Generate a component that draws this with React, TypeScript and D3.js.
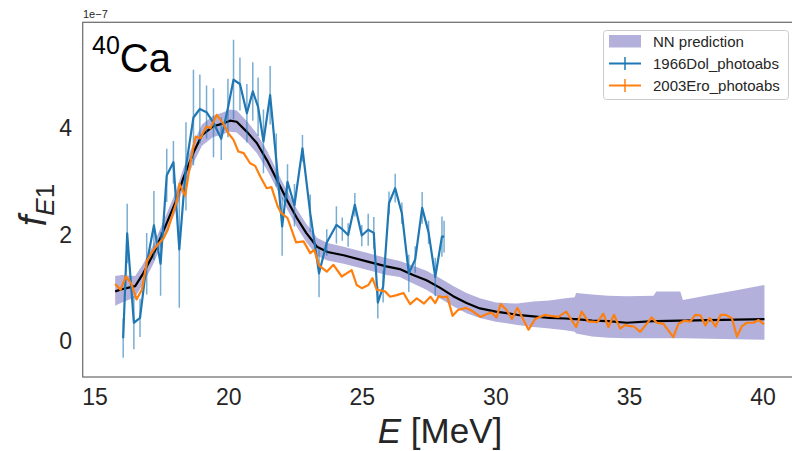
import React from 'react';
import * as d3 from 'd3';

// 1966Dol_photoabs (units of 1e-7)
const dolE = [16.05, 16.2, 16.45, 16.68, 16.93, 17.2, 17.45, 17.68, 17.93, 18.15, 18.4, 18.68, 18.92, 19.17, 19.43, 19.72, 19.97, 20.18, 20.42, 20.68, 20.9, 21.1, 21.3, 21.55, 21.78, 22.0, 22.2, 22.46, 22.76, 23.05, 23.38, 23.67, 24.03, 24.25, 24.47, 24.72, 24.98, 25.22, 25.43, 25.58, 25.78, 26.0, 26.23, 26.48, 26.74, 26.98, 27.24, 27.48, 27.73, 27.98, 28.06];
const dolY = [0.05, 2.02, 0.34, 0.43, 1.45, 2.17, 1.45, 3.11, 3.36, 1.72, 3.28, 4.2, 4.36, 4.3, 4.1, 3.8, 4.38, 4.91, 4.83, 4.28, 4.69, 4.4, 3.75, 4.62, 3.4, 2.15, 2.99, 2.55, 3.62, 2.4, 1.27, 1.85, 2.18, 2.1, 1.99, 2.56, 1.98, 2.09, 2.03, 0.72, 1.02, 2.59, 2.87, 2.4, 1.27, 1.53, 2.5, 2.04, 1.2, 1.96, 1.96];
const dolErr = [0.37, 0.56, 0.5, 0.36, 0.58, 0.65, 0.6, 0.5, 0.4, 1.1, 0.83, 0.9, 0.65, 0.5, 0.65, 0.4, 0.55, 0.75, 0.5, 0.55, 0.55, 0.55, 0.6, 0.55, 0.5, 0.55, 0.33, 0.4, 0.25, 0.35, 0.45, 0.25, 0.35, 0.22, 0.22, 0.22, 0.2, 0.3, 0.3, 0.3, 0.3, 0.22, 0.27, 0.2, 0.35, 0.25, 0.3, 0.22, 0.36, 0.38, 0.3];

// 2003Ero_photoabs
const eroE = [15.75, 15.95, 16.15, 16.35, 16.55, 16.75, 16.94, 17.14, 17.36, 17.55, 17.72, 17.9, 18.07, 18.16, 18.37, 18.58, 18.76, 18.94, 19.16, 19.32, 19.55, 19.78, 19.99, 20.18, 20.36, 20.56, 20.8, 20.99, 21.18, 21.42, 21.6, 21.84, 21.97, 22.2, 22.52, 22.8, 23.05, 23.2, 23.38, 23.67, 23.92, 24.23, 24.6, 24.79, 24.98, 25.23, 25.38, 25.54, 25.85, 26.04, 26.29, 26.54, 26.79, 27.04, 27.31, 27.55, 27.73, 27.86, 28.02, 28.18, 28.38, 28.58, 28.88, 29.15, 29.42, 29.68, 29.85, 30.02, 30.18, 30.4, 30.6, 30.8, 31.22, 31.47, 31.84, 32.03, 32.34, 32.63, 33.0, 33.21, 33.46, 33.6, 33.8, 34.02, 34.21, 34.42, 34.65, 34.84, 34.96, 35.17, 35.4, 35.61, 35.83, 36.02, 36.27, 36.64, 36.83, 37.05, 37.27, 37.46, 37.65, 37.84, 38.0, 38.22, 38.41, 38.58, 38.83, 39.02, 39.2, 39.39, 39.64, 39.83, 40.04];
const eroY = [1.07, 0.96, 1.21, 1.08, 0.78, 0.96, 1.5, 1.68, 1.82, 1.92, 2.09, 2.38, 2.65, 2.95, 2.73, 3.4, 3.84, 3.81, 4.03, 4.0, 4.25, 4.1, 3.9, 3.78, 3.56, 3.53, 3.34, 3.29, 3.09, 2.87, 2.89, 2.52, 2.4, 2.31, 1.85, 1.87, 1.65, 1.71, 1.42, 1.3, 1.43, 1.21, 1.33, 1.05, 0.99, 1.05, 1.18, 0.96, 0.93, 0.83, 0.86, 0.9, 0.69, 0.8, 0.7, 0.83, 0.71, 0.84, 0.82, 0.83, 0.47, 0.58, 0.62, 0.55, 0.45, 0.51, 0.53, 0.44, 0.69, 0.58, 0.41, 0.62, 0.21, 0.41, 0.49, 0.47, 0.45, 0.55, 0.26, 0.55, 0.36, 0.36, 0.35, 0.51, 0.26, 0.49, 0.23, 0.3, 0.28, 0.27, 0.17, 0.3, 0.44, 0.34, 0.32, 0.07, 0.32, 0.38, 0.36, 0.49, 0.48, 0.29, 0.43, 0.27, 0.49, 0.49, 0.43, 0.08, 0.27, 0.34, 0.34, 0.39, 0.31];

// NN prediction: mean and band
const nnE = [15.75, 16.0, 16.5, 16.8, 17.2, 17.6, 18.0, 18.3, 18.7, 19.0, 19.4, 19.8, 20.05, 20.3, 20.7, 21.05, 21.45, 21.8, 22.2, 22.55, 22.9, 23.3, 23.7, 24.3, 25.2, 25.9, 26.4, 26.9, 27.4, 27.9, 28.4, 28.9, 29.4, 30.0, 30.8, 31.4, 32.0, 32.6, 32.95, 33.0, 33.6, 34.2, 34.9, 35.9, 36.0, 36.9, 37.0, 38.0, 39.0, 40.05];
const nnMean = [0.93, 0.97, 1.03, 1.27, 1.65, 2.12, 2.6, 3.06, 3.56, 3.87, 4.03, 4.09, 4.14, 4.12, 3.92, 3.72, 3.38, 3.03, 2.63, 2.31, 2.03, 1.77, 1.67, 1.61, 1.49, 1.4, 1.35, 1.24, 1.14, 1.0, 0.84, 0.71, 0.61, 0.55, 0.49, 0.46, 0.43, 0.42, 0.41, 0.41, 0.38, 0.37, 0.34, 0.37, 0.37, 0.38, 0.38, 0.39, 0.4, 0.41];
const nnLo = [0.66, 0.72, 0.82, 1.08, 1.47, 1.94, 2.42, 2.88, 3.37, 3.67, 3.83, 3.89, 3.93, 3.92, 3.73, 3.53, 3.2, 2.86, 2.46, 2.14, 1.86, 1.6, 1.51, 1.45, 1.33, 1.24, 1.2, 1.08, 0.96, 0.8, 0.65, 0.52, 0.43, 0.36, 0.3, 0.26, 0.23, 0.2, 0.17, 0.14, 0.08, 0.06, 0.05, 0.05, 0.05, 0.05, 0.05, 0.04, 0.03, 0.02];
const nnHi = [1.22, 1.24, 1.22, 1.45, 1.83, 2.3, 2.78, 3.24, 3.75, 4.07, 4.23, 4.3, 4.35, 4.33, 4.12, 3.9, 3.56, 3.2, 2.8, 2.48, 2.2, 1.94, 1.84, 1.77, 1.65, 1.56, 1.5, 1.41, 1.32, 1.18, 1.03, 0.9, 0.8, 0.72, 0.7, 0.74, 0.76, 0.8, 0.82, 0.9, 0.87, 0.85, 0.84, 0.85, 0.93, 0.93, 0.77, 0.86, 0.95, 1.05];

const xTicks = [15, 20, 25, 30, 35, 40];
const yTicks = [0, 2, 4];
const legendLabels = ['NN prediction', '1966Dol_photoabs', '2003Ero_photoabs'];

const FONT = "'Liberation Sans', Arial, Helvetica, sans-serif";
const BAND = '#b3b1dc';
const BLUE = '#1f77b4';
const ORANGE = '#ff7f0e';
const TXT = '#262626';

export default function App() {
  const W = 792, H = 451;
  const L = 82.7, R = 796.9, T = 22.3, B = 377;
  const x = d3.scaleLinear().domain([14.535, 41.265]).range([L, R]);
  const y = d3.scaleLinear().domain([-0.68, 5.99]).range([B, T]);

  const bandPath = d3.area<number>()
    .x((i) => x(nnE[i]))
    .y0((i) => y(nnLo[i]))
    .y1((i) => y(nnHi[i]))(nnE.map((_, i) => i)) || '';
  const line = d3.line<[number, number]>().x((d) => x(d[0])).y((d) => y(d[1]));
  const meanPath = line(nnE.map((e, i) => [e, nnMean[i]])) || '';
  const dolPath = line(dolE.map((e, i) => [e, dolY[i]])) || '';
  const eroPath = line(eroE.map((e, i) => [e, eroY[i]])) || '';

  const lx0 = 609, lx1 = 641;
  const rows = [41, 63.5, 85.5];

  return (
    <svg width={W} height={H} style={{ position: 'absolute', left: 0, top: 0, background: '#fff' }} fontFamily={FONT}>
      <defs>
        <clipPath id="plotclip">
          <rect x={L} y={T} width={R - L} height={B - T} />
        </clipPath>
      </defs>
      <rect x={0} y={0} width={W} height={H} fill="#fff" />
      <g clipPath="url(#plotclip)">
        <path d={bandPath} fill={BAND} stroke="none" />
        <path d={meanPath} fill="none" stroke="#000" strokeWidth={2.2} strokeLinejoin="round" />
        {dolE.map((e, i) => (
          <line key={'eb' + i} x1={x(e)} x2={x(e)} y1={y(dolY[i] - dolErr[i])} y2={y(dolY[i] + dolErr[i])}
            stroke={BLUE} strokeOpacity={0.6} strokeWidth={1.5} />
        ))}
        <path d={dolPath} fill="none" stroke={BLUE} strokeWidth={2.2} strokeLinejoin="round" />
        <path d={eroPath} fill="none" stroke={ORANGE} strokeWidth={2.2} strokeLinejoin="round" />
      </g>
      <rect x={L} y={T} width={R - L} height={B - T} fill="none" stroke="#6e6e6e" strokeWidth={1.25} />

      {xTicks.map((t) => (
        <text key={'xt' + t} x={x(t)} y={405} textAnchor="middle" fontSize={23} fill={TXT}>{t}</text>
      ))}
      {yTicks.map((t) => (
        <text key={'yt' + t} x={72} y={y(t) + 8.3} textAnchor="end" fontSize={23} fill={TXT}>{t}</text>
      ))}
      <text x={83} y={18} fontSize={11} fill={TXT}>1e−7</text>

      <text x={440} y={443} textAnchor="middle" fontSize={35} fill={TXT}>
        <tspan fontStyle="italic">E</tspan> [MeV]
      </text>
      <text transform="translate(46,205) rotate(-90)" textAnchor="middle" fontSize={38} fill={TXT}>
        <tspan fontStyle="italic">f</tspan>
        <tspan fontSize={26} dy={8} fontStyle="italic">E</tspan>
        <tspan fontSize={26}>1</tspan>
      </text>

      <text x={92} y={72} fontSize={40} fill="#000">
        <tspan fontSize={25} dy={-18}>40</tspan>
        <tspan dy={18}>Ca</tspan>
      </text>

      <rect x={603.5} y={30.5} width={185} height={69} rx={3} fill="#fff" fillOpacity={0.8} stroke="#cccccc" strokeWidth={1} />
      <rect x={lx0} y={35} width={lx1 - lx0} height={12.5} fill={BAND} />
      {[BLUE, ORANGE].map((c, k) => (
        <g key={'lg' + k}>
          <line x1={lx0} x2={lx1} y1={rows[k + 1]} y2={rows[k + 1]} stroke={c} strokeWidth={2} />
          <line x1={(lx0 + lx1) / 2} x2={(lx0 + lx1) / 2} y1={rows[k + 1] - 6.5} y2={rows[k + 1] + 6.5} stroke={c} strokeWidth={1.5} />
        </g>
      ))}
      {legendLabels.map((s, k) => (
        <text key={'lt' + k} x={653} y={rows[k] + 5.5} fontSize={15} fill={TXT}>{s}</text>
      ))}
    </svg>
  );
}
